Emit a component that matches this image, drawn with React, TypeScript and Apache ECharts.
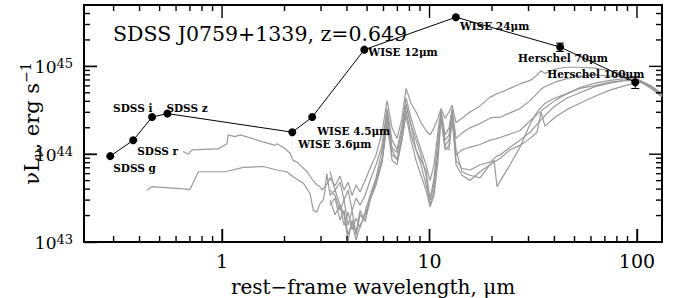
import React, { useEffect, useRef } from 'react';
import * as echarts from 'echarts';

// ---------- Photometry (rest-frame) ----------
const photoNames = [
  'SDSS g', 'SDSS r', 'SDSS i', 'SDSS z',
  'WISE 3.6μm', 'WISE 4.5μm', 'WISE 12μm', 'WISE 24μm',
  'Herschel 70μm', 'Herschel 160μm',
];
const photoWavelength = [0.289, 0.373, 0.46, 0.545, 2.18, 2.72, 4.85, 13.4, 42.6, 98.1];
const photoLum = [9.5e43, 1.44e44, 2.65e44, 2.9e44, 1.78e44, 2.65e44, 1.55e45, 3.63e45, 1.66e45, 6.6e44];
const photoErr = [0, 0, 0, 0, 0, 0, 0, 0, 1.8e44, 1.0e44];

// ---------- Template SEDs (log nuL_nu) ----------
const opticalWlA = [0.649, 0.686, 0.717, 0.956, 1.057, 1.069, 1.155, 1.221, 1.576, 1.8, 1.84, 1.968, 2.127, 2.198, 2.298, 2.568, 2.746, 2.87, 2.967, 3.034, 3.2];
const opticalLogLA = [44.03, 44.0, 44.05, 44.06, 44.12, 44.22, 44.2, 44.22, 44.14, 44.1, 44.12, 44.08, 44.01, 43.93, 43.91, 43.8, 43.7, 43.65, 43.63, 43.59, 43.66];
const opticalWlB = [0.434, 0.458, 0.701, 0.769, 1.034, 1.267, 1.582, 1.835, 2.05, 2.206, 2.465, 2.655, 2.754, 2.86, 2.967, 3.076, 3.136, 3.196];
const opticalLogLB = [43.59, 43.63, 43.6, 43.8, 43.8, 43.85, 43.86, 43.82, 43.8, 43.74, 43.67, 43.55, 43.36, 43.34, 43.44, 43.48, 43.59, 43.78];

const templateWl = [
  3.315, 3.504, 3.704, 3.873, 4.049, 4.233, 4.424, 4.626, 4.889, 5.168,
  5.524, 5.904, 6.242, 6.597, 6.973, 7.37, 7.704, 8.143, 8.607, 9.099,
  9.618, 10.06, 10.51, 10.99, 11.36, 11.88, 12.42, 12.84, 13.42, 14.34,
  15.67, 17.52, 19.57, 20.46, 21.15, 21.87, 24.43, 27.3, 30.51, 32.97,
  34.46, 36.03, 40.25, 46.0, 53.13, 62.77, 74.13, 87.55, 103.4, 118.1,
  132.0,
];
const templateLogL1 = [
  43.73, 43.64, 43.75, 43.59, 43.68, 43.53, 43.65, 43.57, 43.7, 43.84,
  43.99, 44.25, 44.61, 44.3, 44.18, 44.41, 44.75, 44.58, 44.48, 44.36,
  44.27, 44.22, 44.3, 44.41, 44.52, 44.41, 44.48, 44.56, 44.36, 44.41,
  44.48, 44.55, 44.65, 44.67, 44.69, 44.7, 44.75, 44.8, 44.84, 44.9,
  44.95, 44.92, 44.97, 44.99, 44.99, 44.98, 44.95, 44.91, 44.84, 44.77,
  44.69,
];
const templateLogL2 = [
  43.53, 43.59, 43.42, 43.31, 43.01, 43.25, 43.11, 43.36, 43.23, 43.48,
  43.7, 43.95, 44.44, 44.05, 43.93, 44.22, 44.56, 44.33, 44.16, 43.99,
  43.76, 43.42, 43.59, 44.05, 44.48, 44.16, 44.22, 44.5, 44.05, 43.8,
  43.76, 43.73, 43.88, 43.93, 43.63, 43.69, 43.88, 44.08, 44.34, 44.48,
  44.53, 44.58, 44.64, 44.69, 44.76, 44.81, 44.84, 44.86, 44.84, 44.77,
  44.67,
];
const templateLogL3 = [
  43.8, 43.59, 43.68, 43.48, 43.59, 43.36, 43.5, 43.42, 43.53, 43.7,
  43.88, 44.1, 44.52, 44.16, 44.05, 44.33, 44.64, 44.41, 44.22, 44.05,
  43.88, 43.7, 43.88, 44.27, 44.5, 44.22, 44.3, 44.52, 44.18, 44.24,
  44.3, 44.35, 44.41, 44.42, 44.42, 44.42, 44.47, 44.52, 44.61, 44.69,
  44.74, 44.77, 44.82, 44.86, 44.89, 44.9, 44.89, 44.88, 44.83, 44.74,
  44.65,
];
const templateLogL4 = [
  43.48, 43.31, 43.42, 43.19, 43.34, 43.14, 43.27, 43.16, 43.34, 43.53,
  43.73, 44.05, 44.48, 44.07, 44.02, 44.27, 44.57, 44.33, 44.05, 43.88,
  43.65, 43.48, 43.73, 44.16, 44.47, 44.1, 44.16, 44.48, 43.93, 43.84,
  43.82, 43.88, 43.91, 43.95, 43.98, 43.99, 44.08, 44.16, 44.25, 44.34,
  44.39, 44.44, 44.55, 44.64, 44.7, 44.77, 44.81, 44.84, 44.83, 44.76,
  44.68,
];
const templateLogL5 = [
  43.59, 43.53, 43.36, 43.48, 43.19, 43.36, 43.08, 43.31, 43.25, 43.48,
  43.7, 43.91, 44.39, 43.93, 43.88, 44.16, 44.5, 44.22, 44.05, 43.93,
  43.82, 43.48, 43.65, 44.05, 44.44, 44.05, 44.1, 44.44, 43.88, 43.76,
  43.7, 43.8, 43.88, 43.91, 43.93, 43.95, 44.05, 44.1, 44.18, 44.25,
  44.48, 44.32, 44.42, 44.51, 44.58, 44.66, 44.73, 44.78, 44.82, 44.76,
  44.67,
];
const templateLogL6 = [
  43.42, 43.5, 43.25, 43.36, 43.08, 43.23, 43.02, 43.19, 43.31, 43.48,
  43.65, 43.91, 44.33, 43.99, 43.95, 44.18, 44.44, 44.16, 43.93, 43.76,
  43.59, 43.4, 43.53, 43.93, 44.41, 44.07, 44.05, 44.39, 43.99, 44.05,
  44.08, 44.11, 44.16, 44.17, 44.18, 44.19, 44.23, 44.27, 44.38, 44.45,
  44.49, 44.53, 44.61, 44.69, 44.75, 44.78, 44.82, 44.84, 44.84, 44.77,
  44.66,
];

// ---------- Axes ----------
const xMin = 0.216;
const xMax = 132;
const yMin = 1e43;
const yMax = 5e45;
const xMajorTicks = [1, 10, 100];
const xMinorTicks = [0.3, 0.4, 0.5, 0.6, 0.7, 0.8, 0.9, 2, 3, 4, 5, 6, 7, 8, 9, 20, 30, 40, 50, 60, 70, 80, 90];
const yMajorTicks = [1e43, 1e44, 1e45];
const yMinorTicks = [
  2e43, 3e43, 4e43, 5e43, 6e43, 7e43, 8e43, 9e43,
  2e44, 3e44, 4e44, 5e44, 6e44, 7e44, 8e44, 9e44,
  2e45, 3e45, 4e45,
];

const titleText = 'SDSS J0759+1339, z=0.649';
const xTitle = 'rest−frame wavelength, μm';

// label offsets (layout only) relative to each marker
const labelOffsets: [number, number][] = [
  [7, 16], [8, 15], [-35, -5], [3, -2],
  [10, 16], [9, 18], [8, 6], [8, 13],
  [-38, 15], [-84, -4],
];

const FONT = "'DejaVu Serif'";
const MAJOR_LEN = 13;
const MINOR_LEN = 6;
const TICK_W = 1.4;

function buildTemplate(wl: number[], logL: number[]) {
  return wl.map((w, i) => [w, Math.pow(10, logL[i])]);
}

export default function App() {
  const ref = useRef<HTMLDivElement>(null);
  useEffect(() => {
    if (!ref.current) return;
    const chart = echarts.init(ref.current, undefined, { renderer: 'svg' });

    const templates = [
      buildTemplate(opticalWlA, opticalLogLA).concat(buildTemplate(templateWl, templateLogL1)),
      buildTemplate(opticalWlB, opticalLogLB).concat(buildTemplate(templateWl, templateLogL2)),
      buildTemplate(templateWl, templateLogL3),
      buildTemplate(templateWl, templateLogL4),
      buildTemplate(templateWl, templateLogL5),
      buildTemplate(templateWl, templateLogL6),
    ];

    const templateSeries = templates.map((d) => ({
      type: 'line',
      data: d,
      showSymbol: false,
      symbol: 'none',
      lineStyle: { color: '#9a9a9a', width: 1.2 },
      z: 2,
    }));

    const photoData = photoWavelength.map((w, i) => ({
      value: [w, photoLum[i]],
      label: {
        show: true,
        formatter: photoNames[i],
        position: labelOffsets[i],
        align: 'left',
        verticalAlign: 'middle',
        fontFamily: FONT,
        fontWeight: 'bold',
        fontSize: 10.5,
        color: '#000',
      },
    }));

    const errData = photoWavelength
      .map((w, i) => [w, photoLum[i], photoErr[i]])
      .filter((d) => d[2] > 0);

    const option: any = {
      animation: false,
      title: {
        text: titleText,
        left: 113,
        top: 23,
        padding: 0,
        textStyle: { fontFamily: FONT, fontSize: 20.5, color: '#000', fontWeight: 400 },
      },
      grid: {
        left: 84, top: 5, right: 11, bottom: 56,
        containLabel: false, outerBoundsMode: 'none',
        show: true, borderColor: '#000', borderWidth: 2, backgroundColor: 'transparent',
      },
      xAxis: {
        type: 'log',
        min: xMin,
        max: xMax,
        splitLine: { show: false },
        axisLine: { show: true, lineStyle: { color: '#000', width: 2 } },
        axisTick: { show: true, inside: true, length: MAJOR_LEN, customValues: xMajorTicks, lineStyle: { color: '#000', width: TICK_W } },
        axisLabel: {
          show: true,
          customValues: xMajorTicks,
          formatter: (v: number) => String(Number(v.toPrecision(3))),
          fontFamily: FONT,
          fontSize: 19,
          color: '#000',
          margin: 9,
        },
        name: xTitle,
        nameLocation: 'middle',
        nameGap: 35,
        nameMoveOverlap: false,
        nameTextStyle: { fontFamily: FONT, fontSize: 20, color: '#000' },
      },
      yAxis: {
        type: 'log',
        min: yMin,
        max: yMax,
        splitLine: { show: false },
        axisLine: { show: true, lineStyle: { color: '#000', width: 2 } },
        axisTick: { show: true, inside: true, length: MAJOR_LEN, customValues: yMajorTicks, lineStyle: { color: '#000', width: TICK_W } },
        axisLabel: {
          show: true,
          customValues: yMajorTicks,
          formatter: (v: number) => `{b|10}{s|${Math.round(Math.log10(v))}}`,
          margin: 11,
          rich: {
            b: { fontFamily: FONT, fontSize: 17, color: '#000', lineHeight: 18, verticalAlign: 'bottom' },
            s: { fontFamily: FONT, fontSize: 13, color: '#000', lineHeight: 10, verticalAlign: 'top' },
          },
        },
        name: '{a|νL}{sub|ν}{a|, erg s}{sup|−1}',
        nameLocation: 'middle',
        nameGap: 39,
        nameRotate: 90,
        nameMoveOverlap: false,
        nameTextStyle: {
          rich: {
            a: { fontFamily: FONT, fontSize: 21, color: '#000', lineHeight: 26, verticalAlign: 'middle' },
            sub: { fontFamily: FONT, fontSize: 14, color: '#000', lineHeight: 12, verticalAlign: 'bottom' },
            sup: { fontFamily: FONT, fontSize: 14, color: '#000', lineHeight: 12, verticalAlign: 'top' },
          },
        },
      },
      series: [
        ...templateSeries,
        {
          type: 'line',
          data: photoData,
          symbol: 'circle',
          symbolSize: 8,
          itemStyle: { color: '#000' },
          lineStyle: { color: '#000', width: 1 },
          z: 10,
        },
        {
          type: 'custom',
          data: errData,
          encode: { x: 0, y: 1 },
          z: 11,
          renderItem: (_params: any, api: any) => {
            const x = api.value(0);
            const y = api.value(1);
            const e = api.value(2);
            const top = api.coord([x, y + e]);
            const bot = api.coord([x, y - e]);
            const cap = 4;
            return {
              type: 'group',
              children: [
                { type: 'line', shape: { x1: top[0], y1: top[1], x2: bot[0], y2: bot[1] }, style: { stroke: '#000', lineWidth: 1 } },
                { type: 'line', shape: { x1: top[0] - cap, y1: top[1], x2: top[0] + cap, y2: top[1] }, style: { stroke: '#000', lineWidth: 1 } },
                { type: 'line', shape: { x1: bot[0] - cap, y1: bot[1], x2: bot[0] + cap, y2: bot[1] }, style: { stroke: '#000', lineWidth: 1 } },
              ],
            };
          },
        },
      ],
    };

    chart.setOption(option);

    // Tick marks on all four sides as thin filled rects, placed through the axis scales
    try {
      const toPx = (x: number, y: number) =>
        chart.convertToPixel({ gridIndex: 0 }, [x, y]) as number[];
      const els: any[] = [];
      const h = TICK_W / 2;
      const addX = (vals: number[], len: number) => {
        vals.forEach((v) => {
          const b = toPx(v, yMin);
          const t = toPx(v, yMax);
          if (!b || !t) return;
          els.push({ type: 'rect', z: 100, shape: { x: b[0] - h, y: b[1] - len, width: TICK_W, height: len }, style: { fill: '#000' } });
          els.push({ type: 'rect', z: 100, shape: { x: t[0] - h, y: t[1], width: TICK_W, height: len }, style: { fill: '#000' } });
        });
      };
      const addY = (vals: number[], len: number) => {
        vals.forEach((v) => {
          const l = toPx(xMin, v);
          const r = toPx(xMax, v);
          if (!l || !r) return;
          els.push({ type: 'rect', z: 100, shape: { x: l[0], y: l[1] - h, width: len, height: TICK_W }, style: { fill: '#000' } });
          els.push({ type: 'rect', z: 100, shape: { x: r[0] - len, y: r[1] - h, width: len, height: TICK_W }, style: { fill: '#000' } });
        });
      };
      addX(xMajorTicks, MAJOR_LEN);
      addX(xMinorTicks, MINOR_LEN);
      addY(yMajorTicks, MAJOR_LEN);
      addY(yMinorTicks, MINOR_LEN);
      chart.setOption({ graphic: els });
    } catch (e) {
      // ignore
    }

    return () => chart.dispose();
  }, []);

  return (
    <div
      ref={ref}
      style={{ position: 'absolute', left: 0, top: 0, width: 673, height: 298, background: '#fff' }}
    />
  );
}
